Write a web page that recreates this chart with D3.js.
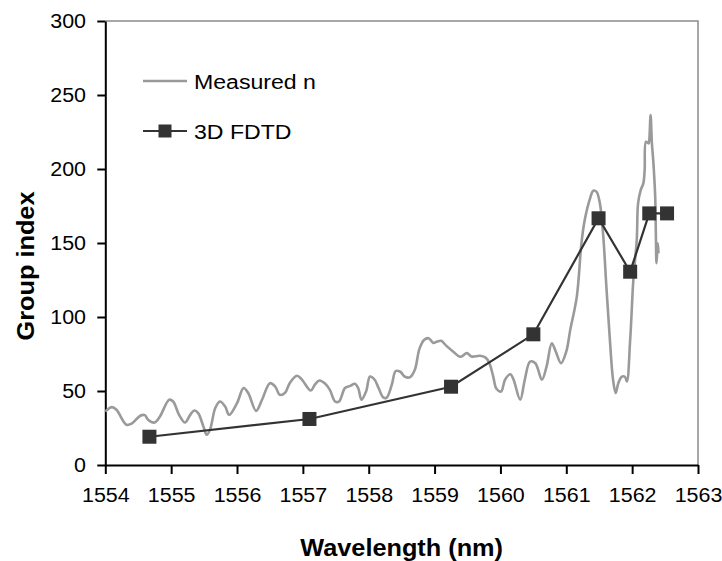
<!DOCTYPE html>
<html>
<head>
<meta charset="utf-8">
<script src="https://cdn.jsdelivr.net/npm/d3@7"></script>
<style>
  html, body { margin: 0; padding: 0; background: #fff; }
  svg { display: block; }
  text { font-family: "Liberation Sans", Arial, sans-serif; fill: #000; }
</style>
</head>
<body>
<div id="chart"></div>
<script>
// ---------------- DATA ----------------
const xTicks = [1554, 1555, 1556, 1557, 1558, 1559, 1560, 1561, 1562, 1563];
const yTicks = [0, 50, 100, 150, 200, 250, 300];

const measuredWavelength = [
  1554.00, 1554.10, 1554.17, 1554.32, 1554.40, 1554.53, 1554.60, 1554.65, 1554.75, 1554.83,
  1554.97, 1555.03, 1555.12, 1555.21, 1555.29, 1555.35, 1555.41, 1555.49, 1555.54, 1555.59,
  1555.67, 1555.74, 1555.82, 1555.88, 1556.00, 1556.10, 1556.17, 1556.29, 1556.38, 1556.50,
  1556.58, 1556.65, 1556.73, 1556.80, 1556.91, 1556.98, 1557.12, 1557.18, 1557.25, 1557.34,
  1557.41, 1557.49, 1557.55, 1557.64, 1557.72, 1557.79, 1557.84, 1557.89, 1557.96, 1558.02,
  1558.09, 1558.15, 1558.22, 1558.27, 1558.35, 1558.41, 1558.48, 1558.55, 1558.63, 1558.70,
  1558.77, 1558.84, 1558.91, 1558.98, 1559.04, 1559.10, 1559.18, 1559.28, 1559.39, 1559.49,
  1559.56, 1559.69, 1559.77, 1559.83, 1559.89, 1559.94, 1560.01, 1560.07, 1560.15, 1560.20,
  1560.30, 1560.37, 1560.45, 1560.53, 1560.63, 1560.70, 1560.78, 1560.84, 1560.92, 1561.00,
  1561.06, 1561.16, 1561.23, 1561.28, 1561.36, 1561.41, 1561.46, 1561.51, 1561.56, 1561.61,
  1561.66, 1561.71, 1561.75, 1561.79, 1561.84, 1561.89, 1561.92, 1561.97, 1562.02, 1562.07,
  1562.09, 1562.13, 1562.17, 1562.19, 1562.21, 1562.25, 1562.26, 1562.28, 1562.30, 1562.32,
  1562.35, 1562.36, 1562.37, 1562.39, 1562.40
];
const measuredN = [
  36.2, 39.1, 37.3, 27.2, 27.9, 33.3, 33.7, 30.6, 28.7, 32.8,
  44.1, 42.9, 33.9, 28.7, 33.9, 36.8, 35.1, 26.0, 20.4, 23.8,
  38.5, 42.9, 39.5, 33.9, 41.8, 52.0, 48.6, 36.6, 44.1, 55.3,
  53.0, 47.4, 48.8, 55.3, 60.3, 58.0, 50.3, 54.2, 57.1, 54.9,
  50.8, 42.9, 42.9, 52.0, 53.5, 54.9, 52.0, 44.1, 49.7, 59.8,
  57.6, 52.0, 45.7, 45.4, 54.2, 63.5, 63.0, 59.6, 59.4, 64.3,
  78.5, 84.5, 85.7, 82.5, 83.4, 83.9, 80.5, 76.7, 73.1, 75.6,
  73.3, 73.8, 72.7, 69.0, 59.9, 51.5, 49.7, 57.6, 61.3, 57.6,
  44.1, 57.6, 69.9, 68.8, 57.6, 66.5, 82.3, 76.7, 68.8, 76.7,
  91.3, 113.8, 149.8, 165.5, 180.0, 185.3, 184.6, 176.8, 155.4, 119.6,
  85.9, 57.6, 48.6, 55.3, 59.6, 59.6, 56.4, 84.5, 126.4, 152.0,
  176.8, 185.8, 190.3, 199.3, 218.4, 217.3, 219.5, 236.4, 217.3, 206.0,
  181.2, 156.5, 136.3, 149.8, 143.1
];

const fdtdWavelength = [1554.67, 1557.10, 1559.25, 1560.50, 1561.49, 1561.97, 1562.26, 1562.53];
const fdtdN = [19.1, 31.1, 52.9, 88.3, 166.7, 130.6, 170, 170];

const seriesNames = ["Measured n", "3D FDTD"];
const xTitle = "Wavelength (nm)";
const yTitle = "Group index";

// ---------------- CHART ----------------
const W = 722, H = 561;
const plot = { left: 105.3, right: 698, top: 21, bottom: 465 };
const SX = 1.1; // horizontal text stretch seen in the reference

const svg = d3.select("#chart").append("svg")
  .attr("width", W).attr("height", H);

const x = d3.scaleLinear().domain([1554, 1563]).range([plot.left, plot.right]);
const y = d3.scaleLinear().domain([0, 300]).range([plot.bottom, plot.top]);

// plot area border (top & right, grey)
svg.append("path")
  .attr("d", `M${plot.left},${plot.top}H${plot.right}V${plot.bottom}`)
  .attr("fill", "none").attr("stroke", "#8c8c8c").attr("stroke-width", 1.5);

// Y axis
const yAxis = svg.append("g")
  .attr("transform", `translate(${plot.left},0)`)
  .call(d3.axisLeft(y).tickValues(yTicks).tickSize(8).tickSizeOuter(0).tickFormat(d3.format("d")));
yAxis.select(".domain").attr("stroke", "#000").attr("stroke-width", 2);
yAxis.selectAll(".tick line").attr("stroke", "#000").attr("stroke-width", 2);
yAxis.selectAll(".tick text")
  .attr("x", null).attr("dy", null).attr("fill", "#000")
  .attr("font-size", "19.5px").attr("text-anchor", "end")
  .attr("transform", `translate(${86 - plot.left},6) scale(${SX},1)`);

// X axis
const xAxis = svg.append("g")
  .attr("transform", `translate(0,${plot.bottom})`)
  .call(d3.axisBottom(x).tickValues(xTicks).tickSize(9).tickSizeOuter(0).tickFormat(d3.format("d")));
xAxis.select(".domain").attr("stroke", "#000").attr("stroke-width", 2);
xAxis.selectAll(".tick line").attr("stroke", "#000").attr("stroke-width", 2);
xAxis.selectAll(".tick text")
  .attr("y", null).attr("dy", null).attr("fill", "#000")
  .attr("font-size", "19.5px").attr("text-anchor", "middle")
  .attr("transform", `translate(0,${502 - plot.bottom}) scale(${SX},1)`);

// axis titles
svg.append("text")
  .attr("transform", `translate(${(plot.left + plot.right) / 2},556) scale(${SX},1)`)
  .attr("text-anchor", "middle").attr("font-weight", "bold").attr("font-size", "23px")
  .text(xTitle);
svg.append("text")
  .attr("transform", `translate(34,266) rotate(-90) scale(${SX},1)`)
  .attr("text-anchor", "middle").attr("font-weight", "bold").attr("font-size", "23px")
  .text(yTitle);

// measured curve
const measured = measuredWavelength.map((w, i) => [w, measuredN[i]]);
svg.append("path")
  .datum(measured)
  .attr("fill", "none").attr("stroke", "#9a9a9a").attr("stroke-width", 2.6)
  .attr("stroke-linejoin", "round")
  .attr("d", d3.line().x(d => x(d[0])).y(d => y(d[1])).curve(d3.curveCatmullRom.alpha(0.5)));

// FDTD series
const fdtd = fdtdWavelength.map((w, i) => [w, fdtdN[i]]);
svg.append("path")
  .datum(fdtd)
  .attr("fill", "none").attr("stroke", "#333").attr("stroke-width", 2.2)
  .attr("d", d3.line().x(d => x(d[0])).y(d => y(d[1])));
const S = 14;
svg.selectAll("rect.fdtd").data(fdtd).enter().append("rect")
  .attr("class", "fdtd")
  .attr("x", d => x(d[0]) - S / 2).attr("y", d => y(d[1]) - S / 2)
  .attr("width", S).attr("height", S).attr("fill", "#333");

// legend
const leg = svg.append("g");
leg.append("line").attr("x1", 143).attr("x2", 187).attr("y1", 81).attr("y2", 81)
  .attr("stroke", "#9a9a9a").attr("stroke-width", 2.4);
leg.append("text").attr("transform", `translate(194,88.5) scale(${SX},1)`)
  .attr("font-size", "21px").text(seriesNames[0]);
leg.append("line").attr("x1", 143).attr("x2", 187).attr("y1", 131).attr("y2", 131)
  .attr("stroke", "#333").attr("stroke-width", 2.2);
leg.append("rect").attr("x", 165 - 6.5).attr("y", 131 - 6.5).attr("width", 13).attr("height", 13)
  .attr("fill", "#333");
leg.append("text").attr("transform", `translate(194,138.5) scale(${SX},1)`)
  .attr("font-size", "21px").text(seriesNames[1]);
</script>
</body>
</html>
